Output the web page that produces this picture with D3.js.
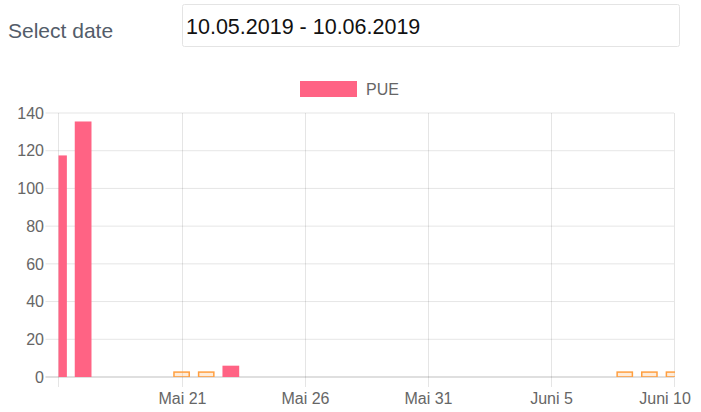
<!DOCTYPE html>
<html>
<head>
<meta charset="utf-8">
<script src="https://cdn.jsdelivr.net/npm/d3@7"></script>
<style>
  html, body { margin: 0; padding: 0; background: #fff; }
  svg { display: block; font-family: "Liberation Sans", Arial, sans-serif; }
</style>
</head>
<body>
<svg id="chart"></svg>
<script>
// PUE bars (pink)
const pueDates = ["2019-05-16", "2019-05-17", "2019-05-23"];
const pueValues = [117.5, 135.5, 6];
// placeholder bars (orange outline, no legend entry)
const emptyDates = ["2019-05-21", "2019-05-22", "2019-06-08", "2019-06-09", "2019-06-10"];
const emptyValues = [3, 3, 3, 3, 3];
// axis ticks
const xTickDates = ["2019-05-21", "2019-05-26", "2019-05-31", "2019-06-05", "2019-06-10"];
const xTickLabels = ["Mai 21", "Mai 26", "Mai 31", "Juni 5", "Juni 10"];
const yTicks = [0, 20, 40, 60, 80, 100, 120, 140];
const xDomain = ["2019-05-16", "2019-06-10"];

const W = 701, H = 412;
const plot = {left: 58.5, right: 674, top: 113, bottom: 377};
const parse = d3.timeParse("%Y-%m-%d");

const svg = d3.select("#chart").attr("width", W).attr("height", H);

// Header: label + date input
svg.append("text")
    .attr("x", 8).attr("y", 38)
    .attr("font-size", 21)
    .attr("fill", "#535c69")
    .text("Select date");

svg.append("rect")
    .attr("x", 182.5).attr("y", 4.5)
    .attr("width", 497).attr("height", 42)
    .attr("rx", 2)
    .attr("fill", "#fff")
    .attr("stroke", "#e4e4e4");

svg.append("text")
    .attr("x", 186).attr("y", 33.5)
    .attr("font-size", 21.5)
    .attr("fill", "#111")
    .text("10.05.2019 - 10.06.2019");

// Scales
const x = d3.scaleTime()
    .domain(xDomain.map(parse))
    .range([plot.left, plot.right]);

const y = d3.scaleLinear()
    .domain([0, 140])
    .range([plot.bottom, plot.top]);

const dayWidth = x(parse("2019-05-17")) - x(parse("2019-05-16"));
const barWidth = dayWidth * 0.68;

// Horizontal grid lines + y tick labels
const gridColor = "rgba(0,0,0,0.1)";
yTicks.forEach(v => {
    svg.append("line")
        .attr("x1", plot.left - 13).attr("x2", plot.right)
        .attr("y1", y(v)).attr("y2", y(v))
        .attr("stroke", v === 0 ? "rgba(0,0,0,0.25)" : gridColor)
        .attr("stroke-width", 1);
    svg.append("text")
        .attr("x", 44).attr("y", y(v))
        .attr("dy", "0.36em")
        .attr("text-anchor", "end")
        .attr("font-size", 16)
        .attr("fill", "#666")
        .text(v);
});

// Vertical grid lines (left edge + ticks)
svg.append("line")
    .attr("x1", plot.left).attr("x2", plot.left)
    .attr("y1", plot.top).attr("y2", plot.bottom + 10)
    .attr("stroke", gridColor);

xTickDates.forEach((d, i) => {
    const xx = Math.round(x(parse(d))) + 0.5;
    svg.append("line")
        .attr("x1", xx).attr("x2", xx)
        .attr("y1", plot.top).attr("y2", plot.bottom + 10)
        .attr("stroke", gridColor);
    const label = svg.append("text")
        .attr("x", xx).attr("y", 404)
        .attr("text-anchor", "middle")
        .attr("font-size", 16)
        .attr("fill", "#666")
        .text(xTickLabels[i]);
    // keep the last label inside the canvas
    const bb = label.node().getBBox();
    if (bb.x + bb.width > 691) label.attr("x", xx - (bb.x + bb.width - 691));
});

// Clip bars to plot area
svg.append("clipPath").attr("id", "plot-clip")
    .append("rect")
    .attr("x", plot.left).attr("y", plot.top - 5)
    .attr("width", plot.right + 1 - plot.left)
    .attr("height", plot.bottom - plot.top + 5);

const bars = svg.append("g").attr("clip-path", "url(#plot-clip)");

bars.selectAll(".empty")
    .data(emptyDates.map((d, i) => ({date: parse(d), value: emptyValues[i]})))
    .enter().append("rect")
    .attr("class", "empty")
    .attr("x", d => x(d.date) - barWidth / 2 + 0.75)
    .attr("y", d => y(d.value) + 0.75)
    .attr("width", barWidth - 1.5)
    .attr("height", d => y(0) - y(d.value) - 0.75)
    .attr("fill", "rgba(255,159,64,0.2)")
    .attr("stroke", "rgb(255,159,64)")
    .attr("stroke-width", 1.5);

bars.selectAll(".pue")
    .data(pueDates.map((d, i) => ({date: parse(d), value: pueValues[i]})))
    .enter().append("rect")
    .attr("class", "pue")
    .attr("x", d => x(d.date) - barWidth / 2)
    .attr("y", d => y(d.value))
    .attr("width", barWidth)
    .attr("height", d => y(0) - y(d.value))
    .attr("fill", "rgb(255,99,132)");

// Legend
const legend = svg.append("g").attr("transform", "translate(300,81)");
legend.append("rect")
    .attr("width", 57).attr("height", 16)
    .attr("fill", "rgb(255,99,132)");
legend.append("text")
    .attr("x", 66).attr("y", 8)
    .attr("dy", "0.36em")
    .attr("font-size", 16)
    .attr("fill", "#666")
    .text("PUE");
</script>
</body>
</html>
